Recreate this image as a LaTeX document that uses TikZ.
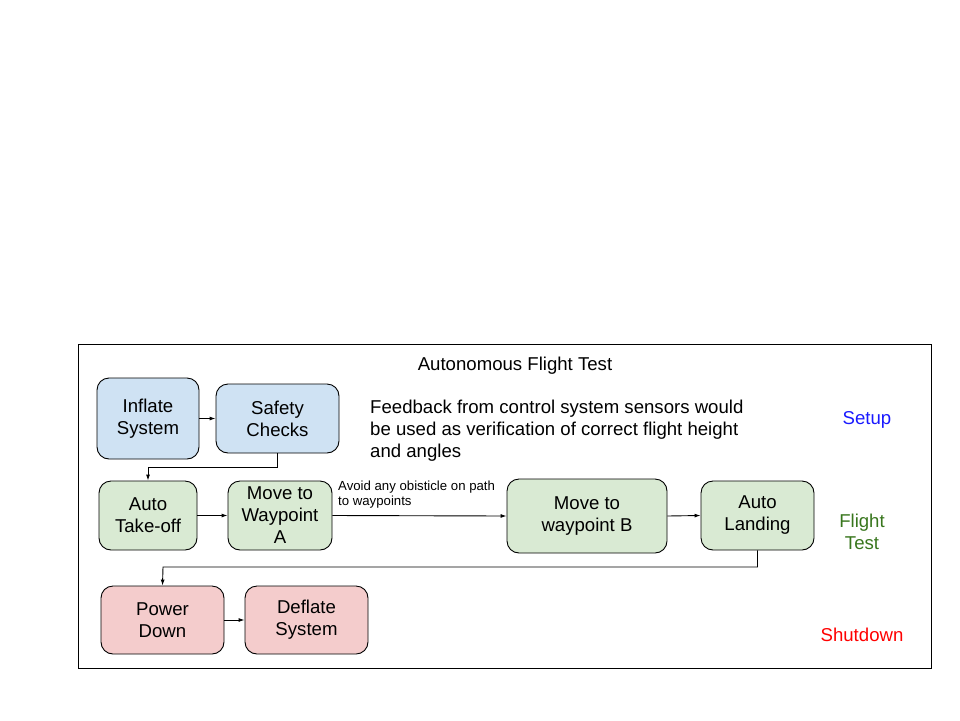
\documentclass[tikz,border=0pt]{standalone}
\usepackage{fontspec}
\setmainfont{Liberation Sans}
\usetikzlibrary{arrows.meta}
\definecolor{bluefill}{HTML}{CFE2F3}
\definecolor{greenfill}{HTML}{D9EAD3}
\definecolor{redfill}{HTML}{F4CCCC}
\definecolor{setupblue}{HTML}{1A1AFF}
\definecolor{flightgreen}{HTML}{38761D}
\definecolor{shutred}{HTML}{FF0000}
\begin{document}
\begin{tikzpicture}[x=1pt,y=-1pt,
  box/.style={draw=black,line width=0.9pt,rounded corners=12pt,inner sep=0pt,align=center,
    font=\fontsize{18.6}{22}\selectfont,execute at begin node={\rule{0pt}{19.6pt}}},
  conn/.style={draw=black,line width=0.9pt,-{Latex[length=6pt,width=4pt]}},
  lbl/.style={inner sep=0pt,align=center,font=\fontsize{18.6}{22}\selectfont}]
\useasboundingbox (0,0) rectangle (960,720);
\node[draw=black,line width=0.9pt,minimum width=853pt,minimum height=324pt,inner sep=0pt] (frame) at (504.5,506) {};
\node[lbl] (title) at (515,366) {Autonomous Flight Test};
% setup
\node[box,fill=bluefill,minimum width=102pt,minimum height=81pt] (inflate) at (148,418.5) {Inflate\\System};
\node[box,fill=bluefill,minimum width=123pt,minimum height=69pt] (safety) at (277.5,418.5) {Safety\\Checks};
\node[inner sep=0pt,align=left,anchor=west,font=\fontsize{18.6}{22}\selectfont] (feedback) at (370,431)
  {Feedback from control system sensors would\\be used as verification of correct flight height\\and angles};
\node[lbl,text=setupblue] (setup) at (867,419.5) {Setup};
% flight
\node[box,fill=greenfill,minimum width=98pt,minimum height=69pt] (takeoff) at (148,515.5) {Auto\\Take-off};
\node[box,fill=greenfill,minimum width=104pt,minimum height=69pt] (wpa) at (280,515.5) {Move to\\Waypoint\\A};
\node[box,fill=greenfill,minimum width=160pt,minimum height=74pt] (wpb) at (587,516) {Move to\\waypoint B};
\node[box,fill=greenfill,minimum width=113pt,minimum height=69pt] (landing) at (757.5,515.5) {Auto\\Landing};
\node[lbl,text=flightgreen] (flight) at (862,531.5) {Flight\\Test};
\node[inner sep=0pt,align=left,anchor=west,font=\fontsize{13.2}{15}\selectfont] (avoid) at (338,495)
  {Avoid any obisticle on path\\to waypoints};
% shutdown
\node[box,fill=redfill,minimum width=123pt,minimum height=68pt] (power) at (162.5,620) {Power\\Down};
\node[box,fill=redfill,minimum width=123pt,minimum height=68pt] (deflate) at (306.5,620) {Deflate\\System};
\node[lbl,text=shutred] (shutdown) at (862,634.5) {Shutdown};
% connectors
\coordinate (j1) at (277.5,467);
\coordinate (j2) at (148,467);
\coordinate (j3) at (757.5,567);
\coordinate (j4) at (163,567);
\draw[conn] (inflate.east) -- (safety.west);
\draw[conn] (safety.south) -- (j1) -- (j2) -- (takeoff.north);
\draw[conn] (takeoff.east) -- (wpa.west);
\draw[conn] (wpa.east) -- (wpb.west);
\draw[conn] (wpb.east) -- (landing.west);
\draw[conn] (landing.south) -- (j3) -- (j4) -- (power.north);
\draw[conn] (power.east) -- (deflate.west);
\end{tikzpicture}
\end{document}
